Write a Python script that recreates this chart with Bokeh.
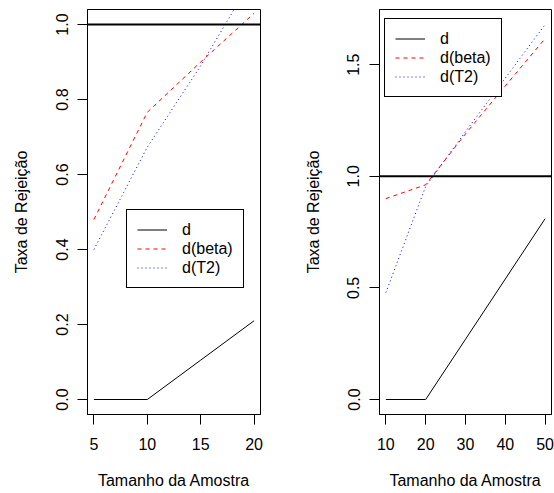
from bokeh.plotting import figure
from bokeh.layouts import row
from bokeh.models import Range1d, FixedTicker, Legend, LegendItem, Span
from bokeh.embed import file_html
from bokeh.resources import INLINE

# ---- data ----
n_left = [5, 10, 15, 20]
d_left = [0.0, 0.0, 0.105, 0.21]
beta_left = [0.48, 0.766, 0.90, 1.03]
t2_left = [0.40, 0.673, 0.89, 1.13]

n_right = [10, 20, 30, 40, 50]
d_right = [0.0, 0.0, 0.27, 0.54, 0.81]
beta_right = [0.90, 0.962, 1.19, 1.405, 1.617]
t2_right = [0.479, 0.955, 1.20, 1.44, 1.68]

series_names = ["d", "d(beta)", "d(T2)"]
x_ticks_left = [5, 10, 15, 20]
y_ticks_left = [0.0, 0.2, 0.4, 0.6, 0.8, 1.0]
y_tick_labels_left = ["0.0", "0.2", "0.4", "0.6", "0.8", "1.0"]
x_ticks_right = [10, 20, 30, 40, 50]
y_ticks_right = [0.0, 0.5, 1.0, 1.5]
y_tick_labels_right = ["0.0", "0.5", "1.0", "1.5"]
ylim_left = (0.0, 1.0)
ref_level = 1.0
x_label = "Tamanho da Amostra"
y_label = "Taxa de Rejeição"

FONT = "Liberation Sans"
FS = "16px"
HEIGHT = 493


def padded(lo, hi):
    s = hi - lo
    return lo - 0.04 * s, hi + 0.04 * s


def style_axis(ax, vertical=False):
    ax.axis_line_color = "black"
    ax.major_tick_line_color = "black"
    ax.minor_tick_line_color = None
    ax.major_tick_out = 10
    ax.major_tick_in = 0
    ax.major_label_text_font = FONT
    ax.major_label_text_font_size = FS
    ax.major_label_text_color = "black"
    ax.axis_label_text_font = FONT
    ax.axis_label_text_font_size = FS
    ax.axis_label_text_font_style = "normal"
    ax.axis_label_text_color = "black"
    if vertical:
        ax.major_label_orientation = "vertical"
        ax.major_label_standoff = 10
        ax.axis_label_standoff = 23
    else:
        ax.major_label_standoff = 13
        ax.axis_label_standoff = 19


def make_panel(width, bl, br, xs, series, xr, yr, xt, yt, ytl, legend_loc):
    p = figure(width=width, height=HEIGHT, output_backend="svg", toolbar_location=None,
               x_range=Range1d(*xr), y_range=Range1d(*yr),
               min_border_left=bl, min_border_right=br, min_border_top=9, min_border_bottom=79,
               x_axis_label=x_label, y_axis_label=y_label)
    p.grid.visible = False
    p.outline_line_color = "black"
    p.outline_line_width = 1
    p.outline_line_alpha = 1
    p.background_fill_color = "white"
    p.border_fill_color = "white"

    styles = [("black", "solid"), ("red", "4 4"), ("blue", "1 3")]
    rends = []
    for ys, (c, dash) in zip(series, styles):
        rends.append(p.line(xs, ys, line_color=c, line_dash=dash, line_width=1))
    p.add_layout(Span(location=ref_level, dimension="width", line_color="black", line_width=2))

    p.xaxis.ticker = FixedTicker(ticks=xt)
    p.xaxis.major_label_overrides = {t: str(t) for t in xt}
    p.yaxis.ticker = FixedTicker(ticks=yt)
    p.yaxis.major_label_overrides = {t: l for t, l in zip(yt, ytl)}
    style_axis(p.xaxis[0])
    style_axis(p.yaxis[0], vertical=True)

    leg = Legend(items=[LegendItem(label=n, renderers=[r]) for n, r in zip(series_names, rends)],
                 location=legend_loc, padding=10, spacing=0, margin=0,
                 glyph_width=30, glyph_height=19, label_height=19, label_standoff=15,
                 label_text_font=FONT, label_text_font_size=FS, label_text_color="black",
                 border_line_color="black", border_line_width=1, border_line_alpha=1,
                 background_fill_color="white", background_fill_alpha=1)
    p.add_layout(leg)
    return p


p1 = make_panel(277, 87, 17, n_left, [d_left, beta_left, t2_left],
                padded(min(n_left), max(n_left)), padded(*ylim_left),
                x_ticks_left, y_ticks_left, y_tick_labels_left, (39, 126))
p2 = make_panel(277, 102, 3, n_right, [d_right, beta_right, t2_right],
                padded(min(n_right), max(n_right)),
                padded(0.0, max(max(d_right), max(beta_right), max(t2_right))),
                x_ticks_right, y_ticks_right, y_tick_labels_right, (5, 317))

layout = row(p1, p2)
open("out.html", "w").write(file_html(layout, INLINE))
